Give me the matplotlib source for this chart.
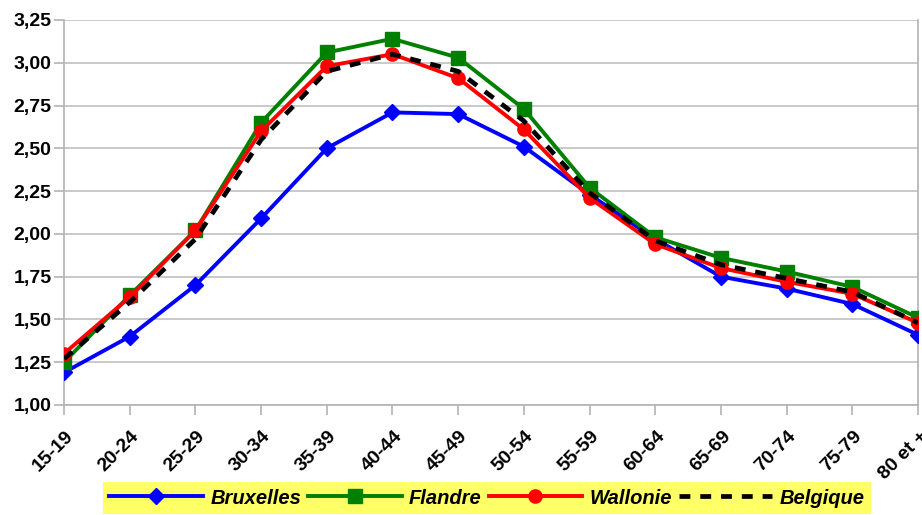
import matplotlib.pyplot as plt
from matplotlib.transforms import ScaledTranslation

plt.rcParams["font.family"] = ["Liberation Sans", "DejaVu Sans"]

age_groups = ["15-19", "20-24", "25-29", "30-34", "35-39", "40-44", "45-49",
              "50-54", "55-59", "60-64", "65-69", "70-74", "75-79", "80 et +"]
bruxelles = [1.19, 1.40, 1.70, 2.09, 2.50, 2.71, 2.70, 2.51, 2.23, 1.97, 1.75, 1.68, 1.59, 1.41]
flandre = [1.25, 1.64, 2.02, 2.65, 3.06, 3.14, 3.03, 2.73, 2.27, 1.98, 1.86, 1.78, 1.69, 1.51]
wallonie = [1.30, 1.63, 2.02, 2.60, 2.98, 3.05, 2.91, 2.61, 2.21, 1.94, 1.80, 1.72, 1.65, 1.48]
belgique = [1.27, 1.60, 1.97, 2.55, 2.95, 3.05, 2.95, 2.66, 2.24, 1.96, 1.82, 1.74, 1.66, 1.48]
y_ticks = [1.00, 1.25, 1.50, 1.75, 2.00, 2.25, 2.50, 2.75, 3.00, 3.25]

fig = plt.figure(figsize=(9.22, 5.15), dpi=100)
ax = fig.add_axes([0.0694, 0.2136, 0.9263, 0.7476])

x = range(len(age_groups))
ax.plot(x, bruxelles, color="#0000ff", lw=2.8, marker="D", ms=8, label="Bruxelles", zorder=3)
ax.plot(x, flandre, color="#008000", lw=2.8, marker="s", ms=9.5, label="Flandre", zorder=4)
ax.plot(x, wallonie, color="#ff0000", lw=2.8, marker="o", ms=9.5, label="Wallonie", zorder=5)
ax.plot(x, belgique, color="black", lw=3.4, ls=(0, (2.3, 2.1)), label="Belgique", zorder=6)

ax.set_xlim(0, len(age_groups) - 1)
ax.set_ylim(1.0, 3.25)
ax.grid(axis="y", color="#c0c0c0", lw=1.2)
ax.set_axisbelow(True)
ax.spines["top"].set_visible(False)
for side in ["left", "bottom", "right"]:
    ax.spines[side].set_color("#b3b3b3")
    ax.spines[side].set_linewidth(1.2)
ax.tick_params(axis="both", color="#b3b3b3", length=7, width=1.2)
ax.tick_params(axis="y", pad=2)

ax.set_yticks(y_ticks)
ax.set_yticklabels([f"{v:.2f}".replace(".", ",") for v in y_ticks],
                   fontsize=14, fontweight="bold")
ax.set_xticks(list(x))
ax.set_xticklabels(age_groups, rotation=45, ha="right", va="center",
                   rotation_mode="anchor", fontsize=14, fontweight="bold")
# move the rotated labels down and a bit right, like the original
shift = ScaledTranslation(7 / 100, -14 / 100, fig.dpi_scale_trans)
for lab in ax.get_xticklabels():
    lab.set_transform(lab.get_transform() + shift)

leg = fig.legend(loc="center", bbox_to_anchor=(0.5282, 0.033), ncol=4,
                 frameon=True, fancybox=False, handlelength=4.65,
                 columnspacing=0.35, handletextpad=0.35, borderpad=0.3,
                 borderaxespad=0,
                 prop={"weight": "bold", "style": "italic", "size": 14.5})
leg.get_frame().set_facecolor("#ffff66")
leg.get_frame().set_edgecolor("none")
leg.get_frame().set_alpha(1)

fig.savefig("out.png", dpi=100)
